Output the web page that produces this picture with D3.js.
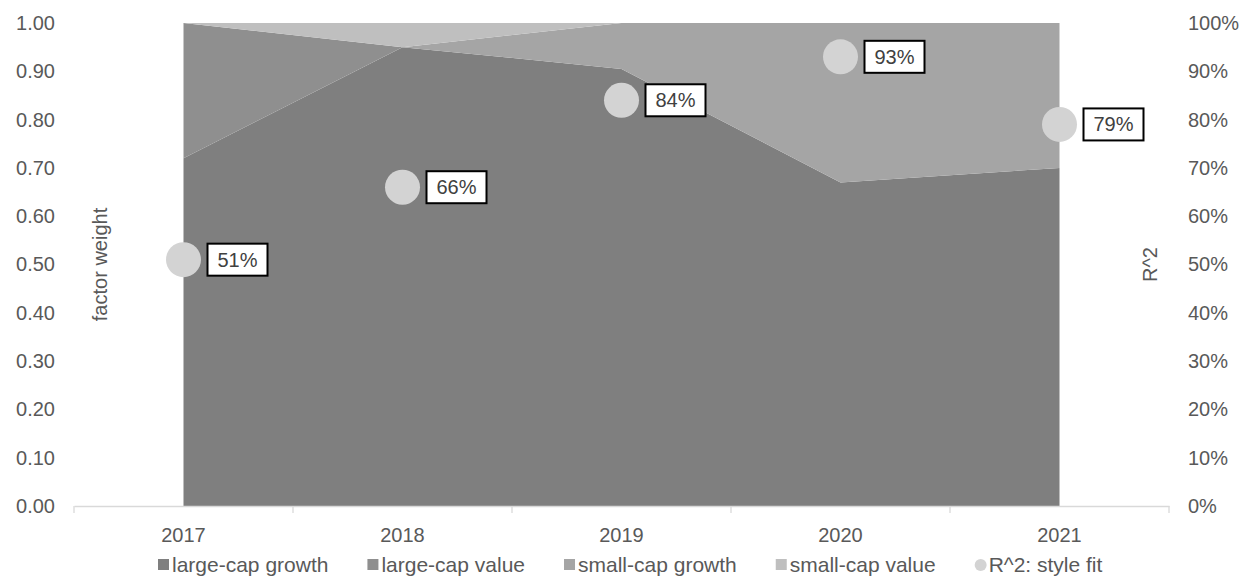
<!DOCTYPE html>
<html>
<head>
<meta charset="utf-8">
<script src="https://cdn.jsdelivr.net/npm/d3@7"></script>
<style>
  body { margin: 0; background: #fff; }
  text { font-family: "Liberation Sans", Arial, sans-serif; fill: #595959; }
</style>
</head>
<body>
<div id="chart"></div>
<script>
// values
var years = ["2017", "2018", "2019", "2020", "2021"];
var largeCapGrowth = [0.72, 0.95, 0.905, 0.67, 0.70];
var largeCapValue  = [0.28, 0.00, 0.00, 0.00, 0.00];
var smallCapGrowth = [0.00, 0.00, 0.095, 0.33, 0.30];
var smallCapValue  = [0.00, 0.05, 0.00, 0.00, 0.00];
var rSquared = [0.51, 0.66, 0.84, 0.93, 0.79];

var seriesNames = ["large-cap growth", "large-cap value", "small-cap growth", "small-cap value"];
var seriesColors = ["#7f7f7f", "#8f8f8f", "#a5a5a5", "#bfbfbf"];
var dotColor = "#d3d3d3";

var W = 1250, H = 576;
var margin = {top: 23, right: 81, bottom: 70, left: 74};

var svg = d3.select("#chart").append("svg")
    .attr("width", W)
    .attr("height", H);

var x = d3.scaleBand()
    .domain(years)
    .range([margin.left, W - margin.right])
    .padding(0);

var y = d3.scaleLinear()
    .domain([0, 1])
    .range([H - margin.bottom, margin.top]);

var y2 = d3.scaleLinear()
    .domain([0, 1])
    .range([H - margin.bottom, margin.top]);

var cx = function(d) { return x(d) + x.bandwidth() / 2; };

// build table for the stack
var table = years.map(function(yr, i) {
    var row = {year: yr};
    row[seriesNames[0]] = largeCapGrowth[i];
    row[seriesNames[1]] = largeCapValue[i];
    row[seriesNames[2]] = smallCapGrowth[i];
    row[seriesNames[3]] = smallCapValue[i];
    return row;
});

var layers = d3.stack().keys(seriesNames)(table);

var area = d3.area()
    .x(function(d) { return cx(d.data.year); })
    .y0(function(d) { return y(d[0]); })
    .y1(function(d) { return y(d[1]); });

svg.append("g").selectAll("path")
    .data(layers)
    .enter().append("path")
    .attr("d", area)
    .attr("fill", function(d, i) { return seriesColors[i]; });

// x axis
var xAxis = svg.append("g")
    .attr("transform", "translate(0," + y(0) + ")")
    .call(d3.axisBottom(x).tickSize(0).tickPadding(22));
xAxis.select(".domain").attr("stroke", "#d9d9d9").attr("stroke-width", 1.3);
xAxis.selectAll("text").style("font-size", "20px").attr("fill", "#595959");

// tick marks between categories
var bounds = [margin.left].concat(years.map(function(d) { return x(d) + x.bandwidth(); }));
svg.append("g").selectAll("line")
    .data(bounds)
    .enter().append("line")
    .attr("x1", function(d) { return d; })
    .attr("x2", function(d) { return d; })
    .attr("y1", y(0))
    .attr("y2", y(0) + 7)
    .attr("stroke", "#d9d9d9")
    .attr("stroke-width", 1.3);

// left axis
var yAxis = svg.append("g")
    .attr("transform", "translate(" + margin.left + ",0)")
    .call(d3.axisLeft(y).ticks(10).tickFormat(d3.format(".2f")).tickSize(0).tickPadding(19));
yAxis.select(".domain").remove();
yAxis.selectAll("text").style("font-size", "20px").attr("fill", "#595959");

// right axis
var yAxis2 = svg.append("g")
    .attr("transform", "translate(" + (W - margin.right) + ",0)")
    .call(d3.axisRight(y2).ticks(10).tickFormat(d3.format(".0%")).tickSize(0).tickPadding(19));
yAxis2.select(".domain").remove();
yAxis2.selectAll("text").style("font-size", "20px").attr("fill", "#595959");

// axis titles
svg.append("text")
    .attr("transform", "translate(107," + ((y(0) + y(1)) / 2) + ") rotate(-90)")
    .style("text-anchor", "middle")
    .style("font-size", "20px")
    .text("factor weight");

svg.append("text")
    .attr("transform", "translate(1157," + ((y(0) + y(1)) / 2) + ") rotate(-90)")
    .style("text-anchor", "middle")
    .style("font-size", "20px")
    .text("R^2");

// R^2 dots and labels
var dots = svg.append("g").selectAll("g")
    .data(years)
    .enter().append("g")
    .attr("transform", function(d, i) { return "translate(" + cx(d) + "," + y2(rSquared[i]) + ")"; });

dots.append("circle")
    .attr("r", 17.5)
    .attr("fill", dotColor);

dots.append("rect")
    .attr("x", 24)
    .attr("y", -16)
    .attr("width", 60)
    .attr("height", 32)
    .attr("fill", "#fff")
    .attr("stroke", "#000")
    .attr("stroke-width", 2);

dots.append("text")
    .attr("x", 54)
    .attr("y", 7)
    .style("text-anchor", "middle")
    .style("font-size", "20px")
    .style("fill", "#404040")
    .text(function(d, i) { return d3.format(".0%")(rSquared[i]); });

// legend
var legendItems = seriesNames.map(function(n, i) {
    return {label: n, color: seriesColors[i], shape: "rect"};
});
legendItems.push({label: "R^2: style fit", color: dotColor, shape: "circle"});

var legend = svg.append("g").attr("transform", "translate(0,565)");
var lx = 158;
legendItems.forEach(function(d) {
    var g = legend.append("g").attr("transform", "translate(" + lx + ",0)");
    if (d.shape == "rect") {
        g.append("rect").attr("x", 0).attr("y", -6).attr("width", 11).attr("height", 11).attr("fill", d.color);
    } else {
        g.append("circle").attr("cx", 6).attr("cy", 0).attr("r", 6).attr("fill", d.color);
    }
    var t = g.append("text")
        .attr("x", 14)
        .attr("y", 7)
        .style("font-size", "21px")
        .text(d.label);
    lx += 14 + t.node().getComputedTextLength() + 39;
});
</script>
</body>
</html>
